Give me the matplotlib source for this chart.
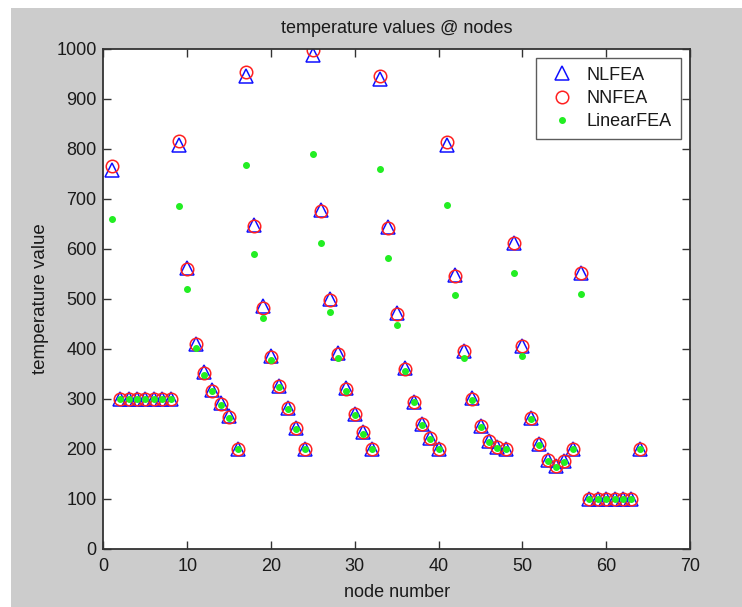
import numpy as np
import matplotlib
matplotlib.use('Agg')
import matplotlib.pyplot as plt
from matplotlib.patches import Rectangle

plt.rcParams['font.family'] = ['Liberation Sans', 'DejaVu Sans']

# node numbers 1..64
nodes = list(range(1, 65))

# nonlinear FEA (blue triangles)
nlfea = [757, 300, 300, 300, 300, 300, 300, 300,
         808, 562, 410, 354, 317, 291, 265, 200,
         946, 647, 485, 385, 326, 282, 242, 200,
         988, 678, 500, 391, 321, 270, 233, 200,
         940, 643, 471, 361, 294, 250, 222, 200,
         808, 547, 395, 301, 245, 215, 203, 200,
         611, 406, 262, 209, 178, 166, 175, 200,
         552, 100, 100, 100, 100, 100, 100, 200]

# neural network FEA (red circles)
nnfea = [765, 300, 300, 300, 300, 300, 300, 300,
         815, 560, 410, 352, 316, 290, 264, 200,
         954, 645, 482, 384, 325, 282, 242, 200,
         997, 675, 498, 390, 320, 270, 233, 200,
         946, 641, 469, 360, 294, 250, 222, 200,
         814, 546, 395, 300, 245, 215, 203, 200,
         612, 406, 262, 209, 178, 166, 175, 200,
         552, 100, 100, 100, 100, 100, 100, 200]

# linear FEA (green dots)
linfea = [660, 300, 300, 300, 300, 300, 300, 300,
          685, 520, 401, 348, 315, 288, 262, 200,
          767, 590, 462, 378, 323, 280, 240, 200,
          789, 611, 473, 381, 316, 268, 230, 200,
          760, 581, 448, 355, 293, 248, 220, 200,
          687, 507, 381, 298, 243, 213, 202, 200,
          551, 386, 260, 207, 175, 164, 173, 200,
          510, 100, 100, 100, 100, 100, 100, 200]

xticks = [0, 10, 20, 30, 40, 50, 60, 70]
yticks = [0, 100, 200, 300, 400, 500, 600, 700, 800, 900, 1000]

W, H = 742, 607
fig = plt.figure(figsize=(W / 100, H / 100), dpi=100, facecolor='white')
# matlab grey window area (screenshot has a thin white margin top/left)
bg = Rectangle((11 / W, 0), 1 - 11 / W, 1 - 8 / H,
               transform=fig.transFigure, facecolor='#cccccc',
               edgecolor='none', zorder=-10)
fig.patches.append(bg)

ax = fig.add_axes([103.5 / W, 1 - 548.5 / H, 586.5 / W, 500 / H])
ax.set_facecolor('white')

ax.plot(nodes, nlfea, linestyle='none', marker='^', markersize=9.5,
        markerfacecolor='none', markeredgecolor='#1010ff', markeredgewidth=1.1,
        label='NLFEA')
ax.plot(nodes, nnfea, linestyle='none', marker='o', markersize=9,
        markerfacecolor='none', markeredgecolor='#ff2020', markeredgewidth=1.1,
        label='NNFEA')
ax.plot(nodes, linfea, linestyle='none', marker='.', markersize=8,
        color='#22ee22', label='LinearFEA')

ax.set_xlim(0, 70)
ax.set_ylim(0, 1000)
ax.set_xticks(xticks)
ax.set_yticks(yticks)
ax.tick_params(direction='in', length=6, width=1, top=True, right=True,
               labelsize=13, colors='#333333', labelcolor='#1a1a1a')
ax.tick_params(axis='x', pad=7)
ax.tick_params(axis='y', pad=5)
for sp in ax.spines.values():
    sp.set_color('#333333')
    sp.set_linewidth(1.3)

ax.set_title('temperature values @ nodes', fontsize=13, color='#1a1a1a', pad=11)
ax.set_xlabel('node number', fontsize=13, color='#1a1a1a', labelpad=6)
ax.set_ylabel('temperature value', fontsize=13.5, color='#1a1a1a', labelpad=5)

leg = ax.legend(loc='upper right', fontsize=13, frameon=True, fancybox=False,
                borderaxespad=0.5, handletextpad=0.5, labelspacing=0.35,
                borderpad=0.5, handlelength=1.8)
leg.get_frame().set_edgecolor('#333333')
leg.get_frame().set_linewidth(1.0)
for t in leg.get_texts():
    t.set_color('#1a1a1a')

fig.savefig('out.png', dpi=100, facecolor=fig.get_facecolor())
